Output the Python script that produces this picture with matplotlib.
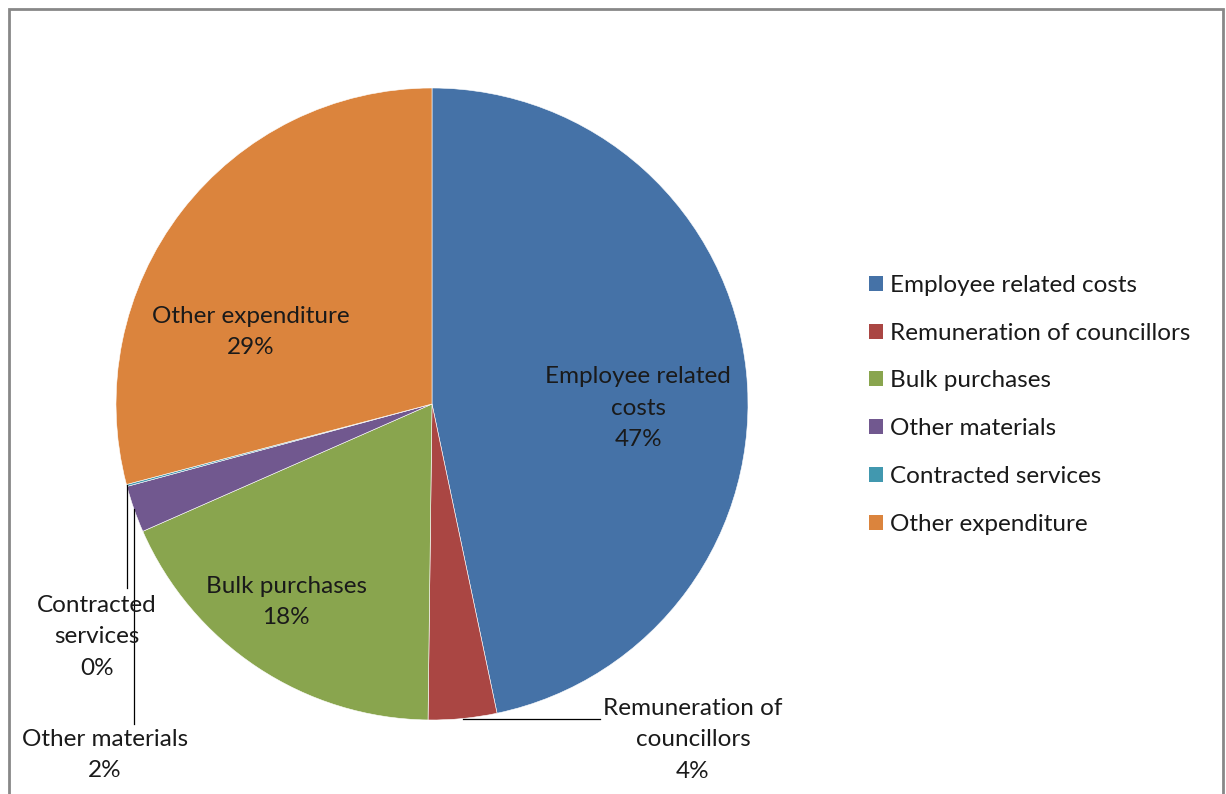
import matplotlib
matplotlib.use("Agg")
import matplotlib.pyplot as plt
import numpy as np
from matplotlib.patches import Rectangle

categories = ["Employee related costs", "Remuneration of councillors", "Bulk purchases",
              "Other materials", "Contracted services", "Other expenditure"]
values = [46.7, 3.5, 18.2, 2.4, 0.1, 29.1]
label_texts = ["Employee related\ncosts", "Remuneration of\ncouncillors", "Bulk purchases",
               "Other materials", "Contracted\nservices", "Other expenditure"]
colors = ["#4572A7", "#AA4643", "#89A54E", "#71588F", "#4198AF", "#DB843D"]

plt.rcParams['font.family'] = ['Lato', 'DejaVu Sans']
FS = 17.5

W, H = 1226, 794
fig = plt.figure(figsize=(W / 100, H / 100), dpi=100)
fig.patch.set_facecolor("white")

# chart frame (open at the bottom edge)
fig.add_artist(Rectangle((9 / W, -0.05), (1223 - 9) / W, (H - 9) / H + 0.05,
                         transform=fig.transFigure, fill=False,
                         edgecolor="#888888", linewidth=2))

cx, cy, r = 432, 404, 316
ax = fig.add_axes([(cx - r) / W, (H - cy - r) / H, 2 * r / W, 2 * r / H])
wedges, _ = ax.pie(values, colors=colors, startangle=90, counterclock=False,
                   radius=1.0, wedgeprops=dict(edgecolor="white", linewidth=0.4))
ax.set_xlim(-1, 1)
ax.set_ylim(-1, 1)
ax.set_aspect("equal")
ax.axis("off")

total = sum(values)
pct = [f"{v / total * 100:.0f}%" for v in values]


def rim_point(w):
    mid = np.deg2rad((w.theta1 + w.theta2) / 2)
    return np.cos(mid), np.sin(mid)


# label placement (axes data units, radius = 1)
pos = {
    0: (0.652, -0.013),
    1: (0.826, -1.063),
    2: (-0.462, -0.627),
    3: (-1.035, -1.111),
    4: (-1.060, -0.737),
    5: (-0.573, 0.228),
}
for i, (x, y) in pos.items():
    ax.text(x, y, f"{label_texts[i]}\n{pct[i]}", ha="center", va="center",
            fontsize=FS, color="#1a1a1a", linespacing=1.6, clip_on=False)

# leader lines for the small outer labels
px, py = rim_point(wedges[1])
ax.plot([px, 0.532], [py, py], color="black", lw=0.9, clip_on=False)
px, py = rim_point(wedges[4])
ax.plot([px, px], [py, -0.582], color="black", lw=0.9, clip_on=False)
px, py = rim_point(wedges[3])
ax.plot([px, px], [py, -1.013], color="black", lw=0.9, clip_on=False)

# legend
handles = [Rectangle((0, 0), 1, 1, facecolor=c, edgecolor="none") for c in colors]
fig.legend(handles, categories, loc="upper left",
           bbox_to_anchor=(869 / W, 1 - 275 / H), frameon=False,
           fontsize=FS, handlelength=0.58, handleheight=0.58,
           handletextpad=0.3, labelspacing=1.1, borderpad=0, borderaxespad=0,
           labelcolor="#1a1a1a")

fig.savefig("out.png", dpi=100, facecolor="white")
